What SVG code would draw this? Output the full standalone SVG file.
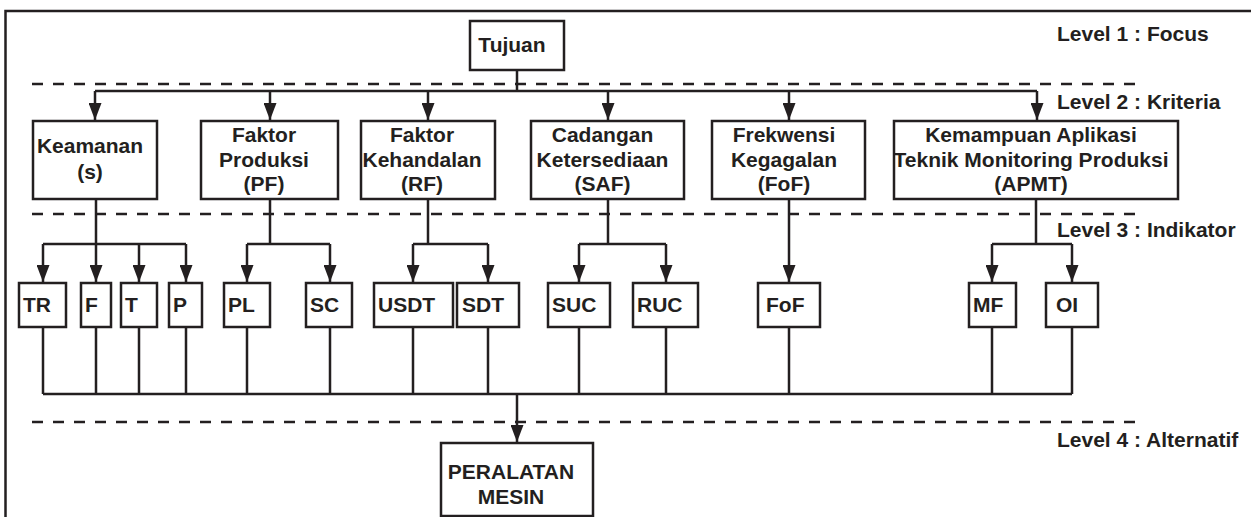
<svg xmlns="http://www.w3.org/2000/svg" width="1251" height="517" viewBox="0 0 1251 517">
<defs>
<marker id="ah" viewBox="0 0 17 13" refX="17" refY="6.5" markerWidth="17" markerHeight="13" markerUnits="userSpaceOnUse" orient="auto">
<path d="M0,0 L17,6.5 L0,13 z" fill="#231f20"/>
</marker>
<style>
.bx{fill:#fff;stroke:#231f20;stroke-width:2.5}
.t{font-family:"Liberation Sans",Arial,sans-serif;font-weight:bold;font-size:21px;fill:#231f20}
.m{text-anchor:middle}
.ln{fill:none;stroke:#231f20;stroke-width:2.5}
.ar{fill:none;stroke:#231f20;stroke-width:2.5;marker-end:url(#ah)}
.ds{fill:none;stroke:#231f20;stroke-width:2.5;stroke-dasharray:11 10}
</style>
</defs>
<rect width="1251" height="517" fill="#fff"/>
<path class="ln" d="M5.5,517 V11 H1251"/>
<g id="levels">
<line class="ds" x1="32" y1="84" x2="1143" y2="84"/>
<line class="ds" x1="32" y1="214" x2="1143" y2="214"/>
<line class="ds" x1="32" y1="422" x2="1143" y2="422"/>
<text class="t" x="1057" y="41">Level 1 : Focus</text>
<text class="t" x="1057" y="109">Level 2 : Kriteria</text>
<text class="t" x="1057" y="237">Level 3 : Indikator</text>
<text class="t" x="1057" y="447">Level 4 : Alternatif</text>
</g>
<g id="connectors">
<path class="ln" d="M517,70 V91 M95,91 H1037"/>
<path class="ar" d="M95,91 V120"/>
<path class="ar" d="M270,91 V120"/>
<path class="ar" d="M428,91 V120"/>
<path class="ar" d="M608,91 V120"/>
<path class="ar" d="M789,91 V120"/>
<path class="ar" d="M1037,91 V120"/>
<path class="ln" d="M96,199 V244 M43,244 H186 M270,199 V244 M247,244 H330 M428,199 V244 M413,244 H488 M608,199 V244 M579,244 H666 M1036,199 V244 M992,244 H1072"/>
<path class="ar" d="M43,244 V282"/>
<path class="ar" d="M96,244 V282"/>
<path class="ar" d="M139,244 V282"/>
<path class="ar" d="M186,244 V282"/>
<path class="ar" d="M247,244 V282"/>
<path class="ar" d="M330,244 V282"/>
<path class="ar" d="M413,244 V282"/>
<path class="ar" d="M488,244 V282"/>
<path class="ar" d="M579,244 V282"/>
<path class="ar" d="M666,244 V282"/>
<path class="ar" d="M789,199 V282"/>
<path class="ar" d="M992,244 V282"/>
<path class="ar" d="M1072,244 V282"/>
<path class="ln" d="M43,327 V394 M96,327 V394 M139,327 V394 M186,327 V394 M247,327 V394 M330,327 V394 M413,327 V394 M488,327 V394 M579,327 V394 M666,327 V394 M789,327 V394 M992,327 V394 M1072,327 V394 M43,394 H1072"/>
<path class="ar" d="M517,394 V442"/>
</g>
<g id="tujuan"><rect class="bx" x="470" y="21" width="94" height="49"/><text class="t m" x="512" y="52">Tujuan</text></g>
<g id="keamanan"><rect class="bx" x="33" y="121" width="124" height="78"/><text class="t m" x="90" y="153">Keamanan</text><text class="t m" x="90" y="179">(s)</text></g>
<g id="pf"><rect class="bx" x="201" y="121" width="137" height="78"/><text class="t m" x="264" y="142">Faktor</text><text class="t m" x="264" y="167">Produksi</text><text class="t m" x="264" y="191">(PF)</text></g>
<g id="rf"><rect class="bx" x="361" y="121" width="134" height="78"/><text class="t m" x="422" y="142">Faktor</text><text class="t m" x="422" y="167">Kehandalan</text><text class="t m" x="422" y="191">(RF)</text></g>
<g id="saf"><rect class="bx" x="531" y="121" width="153" height="78"/><text class="t m" x="602.5" y="142">Cadangan</text><text class="t m" x="602.5" y="167">Ketersediaan</text><text class="t m" x="602.5" y="191">(SAF)</text></g>
<g id="fof"><rect class="bx" x="712" y="121" width="153" height="78"/><text class="t m" x="784" y="142">Frekwensi</text><text class="t m" x="784" y="167">Kegagalan</text><text class="t m" x="784" y="191">(FoF)</text></g>
<g id="apmt"><rect class="bx" x="894" y="121" width="284" height="78"/><text class="t m" x="1031" y="142">Kemampuan Aplikasi</text><text class="t m" x="1031" y="167">Teknik Monitoring Produksi</text><text class="t m" x="1031" y="191">(APMT)</text></g>
<g id="tr"><rect class="bx" x="19" y="283" width="47" height="44"/><text class="t" x="23" y="312">TR</text></g>
<g id="f"><rect class="bx" x="81" y="283" width="30" height="44"/><text class="t" x="85" y="312">F</text></g>
<g id="t"><rect class="bx" x="121" y="283" width="36" height="44"/><text class="t" x="125" y="312">T</text></g>
<g id="p"><rect class="bx" x="169" y="283" width="33" height="44"/><text class="t" x="173" y="312">P</text></g>
<g id="pl"><rect class="bx" x="224" y="283" width="46" height="44"/><text class="t" x="228" y="312">PL</text></g>
<g id="sc"><rect class="bx" x="306" y="283" width="46" height="44"/><text class="t" x="310" y="312">SC</text></g>
<g id="usdt"><rect class="bx" x="374" y="283" width="79" height="44"/><text class="t" x="378" y="312">USDT</text></g>
<g id="sdt"><rect class="bx" x="457" y="283" width="62" height="44"/><text class="t" x="462" y="312">SDT</text></g>
<g id="suc"><rect class="bx" x="548" y="283" width="62" height="44"/><text class="t" x="552" y="312">SUC</text></g>
<g id="ruc"><rect class="bx" x="633" y="283" width="65" height="44"/><text class="t" x="637" y="312">RUC</text></g>
<g id="fof2"><rect class="bx" x="758" y="283" width="62" height="44"/><text class="t" x="766" y="312">FoF</text></g>
<g id="mf"><rect class="bx" x="969" y="283" width="47" height="44"/><text class="t" x="973" y="312">MF</text></g>
<g id="oi"><rect class="bx" x="1046" y="283" width="52" height="44"/><text class="t" x="1056" y="312">OI</text></g>
<g id="peralatan"><rect class="bx" x="441" y="443" width="152" height="73"/><text class="t m" x="511" y="479">PERALATAN</text><text class="t m" x="511" y="504">MESIN</text></g>
</svg>
